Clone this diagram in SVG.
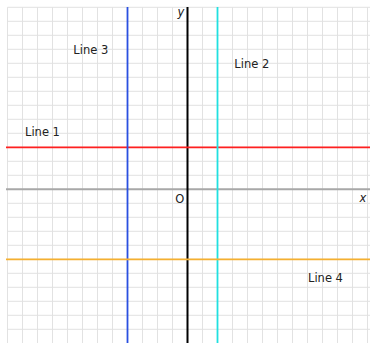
<svg xmlns="http://www.w3.org/2000/svg" width="370" height="343" viewBox="0 0 370 343">
<style>
.grid line{stroke:#e2e2e2;stroke-width:1}
.lbl{font-family:"DejaVu Sans",sans-serif;font-size:11.5px;fill:#222}
.ax{font-family:"DejaVu Sans",sans-serif;font-size:11.5px;fill:#222;font-style:italic}
</style>
<rect width="370" height="343" fill="#ffffff"/>
<g id="grid" class="grid">
<line x1="7.5" y1="7.3" x2="7.5" y2="343"/>
<line x1="22.5" y1="7.3" x2="22.5" y2="343"/>
<line x1="37.5" y1="7.3" x2="37.5" y2="343"/>
<line x1="52.5" y1="7.3" x2="52.5" y2="343"/>
<line x1="67.5" y1="7.3" x2="67.5" y2="343"/>
<line x1="82.5" y1="7.3" x2="82.5" y2="343"/>
<line x1="97.5" y1="7.3" x2="97.5" y2="343"/>
<line x1="112.5" y1="7.3" x2="112.5" y2="343"/>
<line x1="127.5" y1="7.3" x2="127.5" y2="343"/>
<line x1="142.5" y1="7.3" x2="142.5" y2="343"/>
<line x1="157.5" y1="7.3" x2="157.5" y2="343"/>
<line x1="172.5" y1="7.3" x2="172.5" y2="343"/>
<line x1="187.5" y1="7.3" x2="187.5" y2="343"/>
<line x1="202.5" y1="7.3" x2="202.5" y2="343"/>
<line x1="217.5" y1="7.3" x2="217.5" y2="343"/>
<line x1="232.5" y1="7.3" x2="232.5" y2="343"/>
<line x1="247.5" y1="7.3" x2="247.5" y2="343"/>
<line x1="262.5" y1="7.3" x2="262.5" y2="343"/>
<line x1="277.5" y1="7.3" x2="277.5" y2="343"/>
<line x1="292.5" y1="7.3" x2="292.5" y2="343"/>
<line x1="307.5" y1="7.3" x2="307.5" y2="343"/>
<line x1="322.5" y1="7.3" x2="322.5" y2="343"/>
<line x1="337.5" y1="7.3" x2="337.5" y2="343"/>
<line x1="352.5" y1="7.3" x2="352.5" y2="343"/>
<line x1="367.5" y1="7.3" x2="367.5" y2="343"/>
<line x1="7.5" y1="7.3" x2="370" y2="7.3"/>
<line x1="7.5" y1="21.3" x2="370" y2="21.3"/>
<line x1="7.5" y1="35.3" x2="370" y2="35.3"/>
<line x1="7.5" y1="49.3" x2="370" y2="49.3"/>
<line x1="7.5" y1="63.3" x2="370" y2="63.3"/>
<line x1="7.5" y1="77.3" x2="370" y2="77.3"/>
<line x1="7.5" y1="91.3" x2="370" y2="91.3"/>
<line x1="7.5" y1="105.3" x2="370" y2="105.3"/>
<line x1="7.5" y1="119.3" x2="370" y2="119.3"/>
<line x1="7.5" y1="133.3" x2="370" y2="133.3"/>
<line x1="7.5" y1="147.3" x2="370" y2="147.3"/>
<line x1="7.5" y1="161.3" x2="370" y2="161.3"/>
<line x1="7.5" y1="175.3" x2="370" y2="175.3"/>
<line x1="7.5" y1="189.3" x2="370" y2="189.3"/>
<line x1="7.5" y1="203.3" x2="370" y2="203.3"/>
<line x1="7.5" y1="217.3" x2="370" y2="217.3"/>
<line x1="7.5" y1="231.3" x2="370" y2="231.3"/>
<line x1="7.5" y1="245.3" x2="370" y2="245.3"/>
<line x1="7.5" y1="259.3" x2="370" y2="259.3"/>
<line x1="7.5" y1="273.3" x2="370" y2="273.3"/>
<line x1="7.5" y1="287.3" x2="370" y2="287.3"/>
<line x1="7.5" y1="301.3" x2="370" y2="301.3"/>
<line x1="7.5" y1="315.3" x2="370" y2="315.3"/>
<line x1="7.5" y1="329.3" x2="370" y2="329.3"/>
</g>
<g id="axes">
<line x1="6" y1="189.3" x2="370" y2="189.3" stroke="#a8a8a8" stroke-width="2"/>
<line x1="187.5" y1="7" x2="187.5" y2="343" stroke="#000000" stroke-width="2"/>
</g>
<g id="lines">
<line id="line1" x1="6" y1="147.3" x2="370" y2="147.3" stroke="#ff2020" stroke-width="1.8"/>
<line id="line2" x1="217.5" y1="7" x2="217.5" y2="343" stroke="#20e0e0" stroke-width="1.8"/>
<line id="line3" x1="127.5" y1="7" x2="127.5" y2="343" stroke="#2a50e0" stroke-width="1.8"/>
<line id="line4" x1="6" y1="259.3" x2="370" y2="259.3" stroke="#f5b030" stroke-width="1.8"/>
</g>
<g id="labels">
<text class="lbl" x="25" y="135.5">Line 1</text>
<text class="lbl" x="234.3" y="68.3">Line 2</text>
<text class="lbl" x="73.3" y="54">Line 3</text>
<text class="lbl" x="308" y="281.5">Line 4</text>
<text class="lbl" x="175.3" y="202.8">O</text>
<text class="ax" x="177.5" y="16.3">y</text>
<text class="ax" x="359.5" y="202">x</text>
</g>
</svg>
